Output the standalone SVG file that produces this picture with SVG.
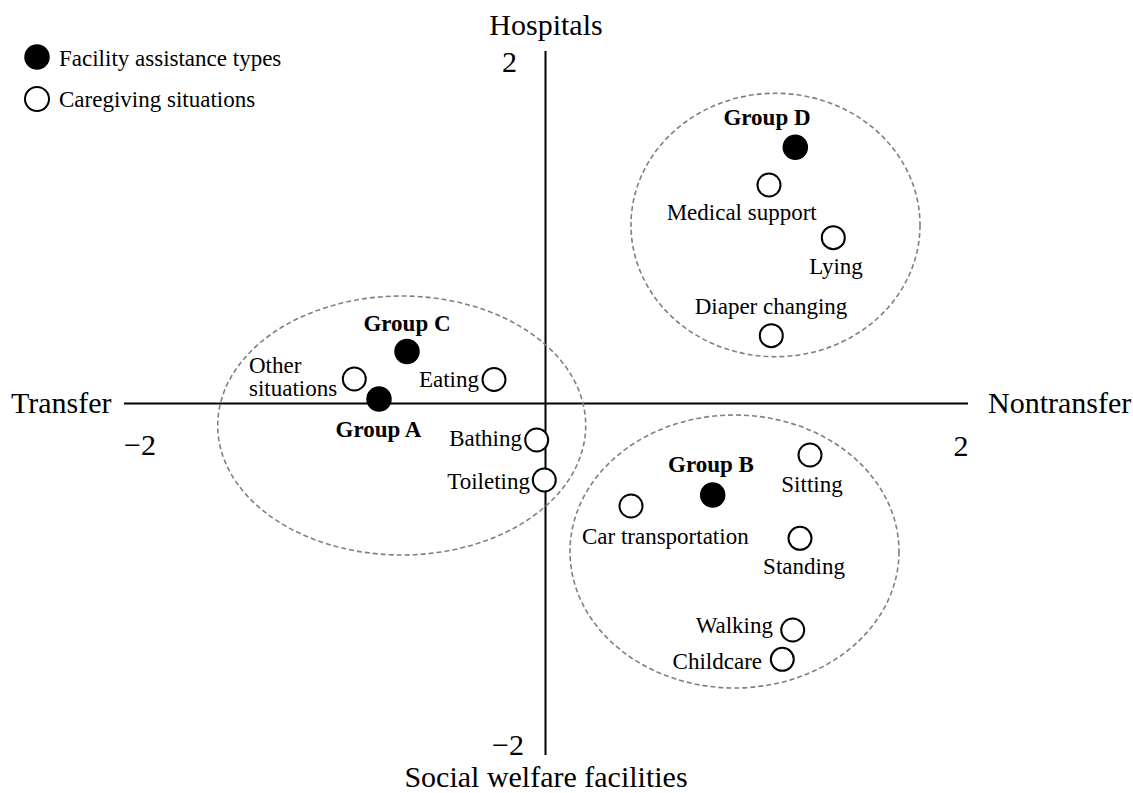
<svg xmlns="http://www.w3.org/2000/svg" width="1133" height="793" viewBox="0 0 1133 793">
<style>
text{font-family:"Liberation Serif","Times New Roman",serif;fill:#000}
.ax{font-size:30px}
.lb{font-size:23px}
.gp{font-size:23px;font-weight:bold}
.f{fill:#000;stroke:#000;stroke-width:1.5}
.o{fill:#fff;stroke:#000;stroke-width:2}
.grp{fill:none;stroke:#808080;stroke-width:1.6;stroke-dasharray:5 3}
.axis{stroke:#000;stroke-width:2}
</style>
<rect width="1133" height="793" fill="#fff"/>
<g id="legend">
<circle class="f" cx="37" cy="57" r="12"/>
<text class="lb" x="59" y="66">Facility assistance types</text>
<circle class="o" cx="37" cy="99" r="12"/>
<text class="lb" x="59" y="107">Caregiving situations</text>
</g>
<g id="axes">
<line class="axis" x1="124" y1="403.5" x2="968" y2="403.5"/>
<line class="axis" x1="545.5" y1="51" x2="545.5" y2="755"/>
<text class="ax" x="546" y="35" text-anchor="middle">Hospitals</text>
<text class="ax" x="546" y="787" text-anchor="middle">Social welfare facilities</text>
<text class="ax" x="11" y="413">Transfer</text>
<text class="ax" x="988" y="413">Nontransfer</text>
<text class="ax" x="509.5" y="72" text-anchor="middle">2</text>
<text class="ax" x="508" y="755" text-anchor="middle">−2</text>
<text class="ax" x="140" y="455" text-anchor="middle">−2</text>
<text class="ax" x="961" y="456" text-anchor="middle">2</text>
</g>
<g id="groups">
<ellipse id="ellipse-left" class="grp" cx="401.7" cy="425.5" rx="184" ry="129.5"/>
<ellipse id="ellipse-d" class="grp" cx="775.5" cy="225" rx="144.5" ry="131.7"/>
<ellipse id="ellipse-b" class="grp" cx="734.5" cy="551.5" rx="164.5" ry="136.5"/>
</g>
<g id="group-c">
<circle class="f" cx="407" cy="351.5" r="12"/>
<text class="gp" x="407" y="331" text-anchor="middle">Group C</text>
</g>
<g id="group-a">
<circle class="f" cx="379" cy="399" r="12"/>
<text class="gp" x="378.5" y="437" text-anchor="middle">Group A</text>
</g>
<g id="other-situations">
<circle class="o" cx="354.3" cy="379" r="11.5"/>
<text class="lb" x="249" y="373">Other</text>
<text class="lb" x="249" y="396">situations</text>
</g>
<g id="eating">
<circle class="o" cx="494" cy="379.5" r="11.5"/>
<text class="lb" x="479" y="387" text-anchor="end">Eating</text>
</g>
<g id="bathing">
<circle class="o" cx="536.7" cy="440" r="11.5"/>
<text class="lb" x="522" y="446" text-anchor="end">Bathing</text>
</g>
<g id="toileting">
<circle class="o" cx="544.3" cy="480" r="11.5"/>
<text class="lb" x="530" y="489" text-anchor="end">Toileting</text>
</g>
<g id="group-d">
<circle class="f" cx="795.3" cy="147.3" r="12"/>
<text class="gp" x="767" y="124.5" text-anchor="middle">Group D</text>
</g>
<g id="medical-support">
<circle class="o" cx="769" cy="185" r="11.5"/>
<text class="lb" x="741.7" y="219.5" text-anchor="middle">Medical support</text>
</g>
<g id="lying">
<circle class="o" cx="833.3" cy="237.7" r="11.5"/>
<text class="lb" x="836" y="274" text-anchor="middle">Lying</text>
</g>
<g id="diaper-changing">
<circle class="o" cx="771.3" cy="335.7" r="11.5"/>
<text class="lb" x="771" y="313.5" text-anchor="middle">Diaper changing</text>
</g>
<g id="group-b">
<circle class="f" cx="712.7" cy="495" r="12"/>
<text class="gp" x="711" y="472" text-anchor="middle">Group B</text>
</g>
<g id="sitting">
<circle class="o" cx="810" cy="455" r="11.5"/>
<text class="lb" x="812" y="492" text-anchor="middle">Sitting</text>
</g>
<g id="car-transportation">
<circle class="o" cx="631" cy="506" r="11.5"/>
<text class="lb" x="665.3" y="543.5" text-anchor="middle">Car transportation</text>
</g>
<g id="standing">
<circle class="o" cx="800" cy="538.3" r="11.5"/>
<text class="lb" x="804" y="573.5" text-anchor="middle">Standing</text>
</g>
<g id="walking">
<circle class="o" cx="792.7" cy="630" r="11.5"/>
<text class="lb" x="773" y="633" text-anchor="end">Walking</text>
</g>
<g id="childcare">
<circle class="o" cx="782.3" cy="659.3" r="11.5"/>
<text class="lb" x="762" y="668.5" text-anchor="end">Childcare</text>
</g>
<g id="connectors"></g>
</svg>
